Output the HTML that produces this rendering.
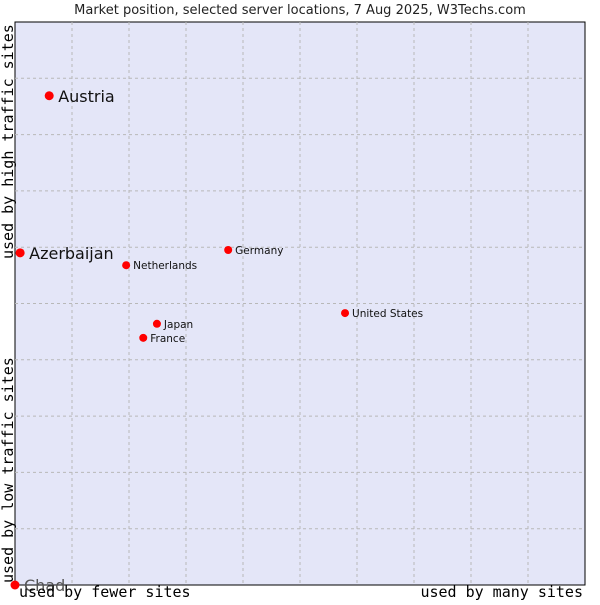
<!DOCTYPE html>
<html><head><meta charset="utf-8"><style>
body{margin:0;background:#fff;}
svg text{font-family:"DejaVu Sans","Liberation Sans",sans-serif;}
.mono{font-family:"DejaVu Sans Mono","Liberation Mono",monospace !important;}
</style></head><body>
<svg width="600" height="600" xmlns="http://www.w3.org/2000/svg">
<rect x="0" y="0" width="600" height="600" fill="#fff"/>
<text x="300" y="14" font-size="13" text-anchor="middle" fill="#222">Market position, selected server locations, 7 Aug 2025, W3Techs.com</text>
<rect x="15" y="22" width="570" height="563" fill="#e4e6f8" stroke="#000" stroke-width="1"/>
<g id="grid"></g>
<g id="pts"></g>
<text class="mono" x="19" y="597" font-size="15" fill="#000">used by fewer sites</text>
<text class="mono" x="583" y="597" font-size="15" text-anchor="end" fill="#000">used by many sites</text>
<text class="mono" transform="translate(13,583) rotate(-90)" font-size="15" fill="#000">used by low traffic sites</text>
<text class="mono" transform="translate(13,259) rotate(-90)" font-size="15" fill="#000">used by high traffic sites</text>
</svg>
<script>
const names=["Austria","Azerbaijan","Chad","Netherlands","Germany","United States","Japan","France"];
const xVals=[0.6,0.09,0,1.95,3.74,5.79,2.49,2.25];
const yVals=[8.69,5.9,0,5.68,5.95,4.83,4.64,4.39];
const big=[true,true,true,false,false,false,false,false];
const NS="http://www.w3.org/2000/svg";
const X0=15,X1=585,Y0=585,Y1=22;
const sx=v=>X0+v/10*(X1-X0), sy=v=>Y0-v/10*(Y0-Y1);
const grid=document.getElementById('grid');
for(let i=1;i<10;i++){
 let l=document.createElementNS(NS,'line');
 l.setAttribute('x1',sx(i));l.setAttribute('x2',sx(i));l.setAttribute('y1',Y1);l.setAttribute('y2',Y0);
 l.setAttribute('stroke','#b8b8b8');l.setAttribute('stroke-dasharray','3,3');
 
 
 grid.appendChild(l);
 let h=document.createElementNS(NS,'line');
 h.setAttribute('y1',sy(i));h.setAttribute('y2',sy(i));h.setAttribute('x1',X0);h.setAttribute('x2',X1);
 h.setAttribute('stroke','#b8b8b8');h.setAttribute('stroke-dasharray','3,3');
 
 
 grid.appendChild(h);
}
const pts=document.getElementById('pts');
names.forEach((n,i)=>{
 const x=sx(xVals[i]),y=sy(yVals[i]);
 const c=document.createElementNS(NS,'circle');
 c.setAttribute('cx',x);c.setAttribute('cy',y);c.setAttribute('r',big[i]?4.5:4);c.setAttribute('fill','#f00');
 
 
 pts.appendChild(c);
 const t=document.createElementNS(NS,'text');
 t.setAttribute('x',x+(big[i]?9:7));t.setAttribute('y',y+(big[i]?6:4));
 t.setAttribute('font-size',big[i]?16:10.5);
 t.setAttribute('fill',n==="Chad"?'#555':'#111');
 t.textContent=n;
 
 
 pts.appendChild(t);
});
</script>
</body></html>
